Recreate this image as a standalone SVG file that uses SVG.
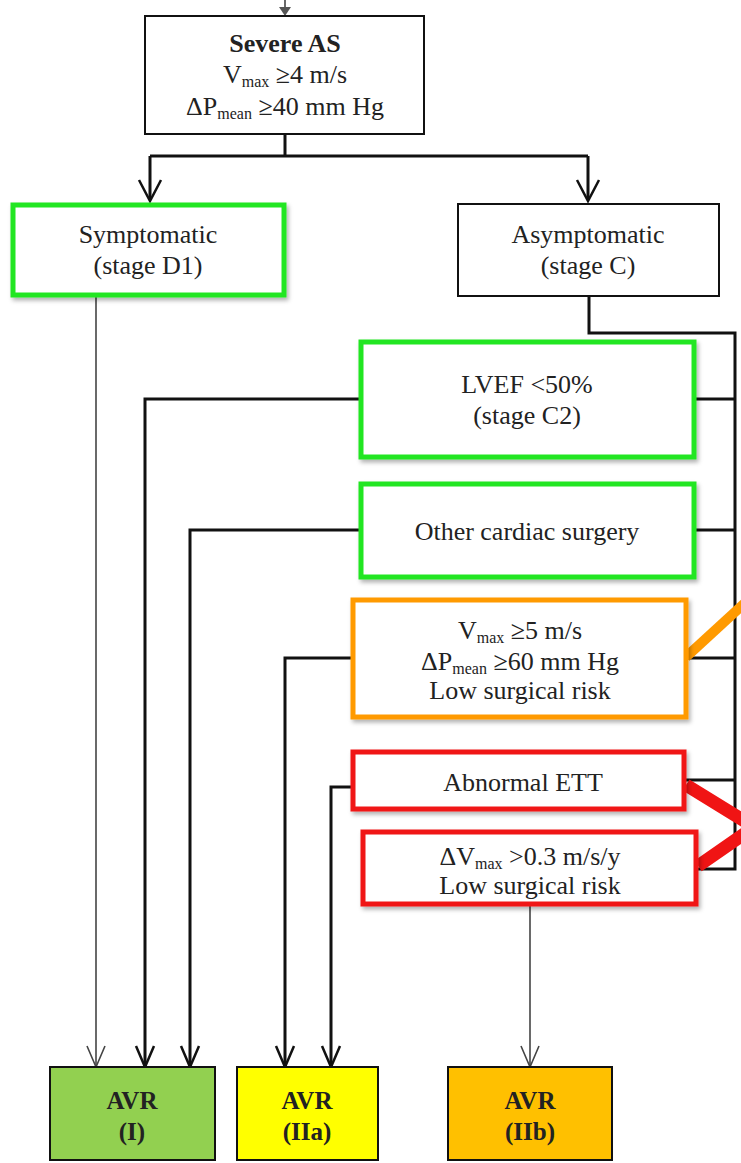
<svg xmlns="http://www.w3.org/2000/svg" width="741" height="1163" viewBox="0 0 741 1163">
<defs>
<style>
text{font-family:"Liberation Serif","Times New Roman",serif;font-size:26px;fill:#222;text-anchor:middle}
.b{font-weight:bold}
.sub{font-size:16px}
.avr{font-weight:bold;font-size:25px}
.plain{fill:#fff;stroke:#111;stroke-width:2}
.g{fill:#fff;stroke:#22e622;stroke-width:5;filter:url(#sh)}
.o{fill:#fff;stroke:#ff9a00;stroke-width:5;filter:url(#sh)}
.r{fill:#fff;stroke:#f01414;stroke-width:5;filter:url(#sh)}
.c{fill:none;stroke:#111;stroke-width:3}
.t{fill:none;stroke:#444;stroke-width:1.6}
.ah{fill:none;stroke:#111;stroke-width:2.5}
.aht{fill:none;stroke:#444;stroke-width:1.6}
.bx{stroke:#111;stroke-width:2}
</style>
<filter id="sh" x="-5%" y="-10%" width="115%" height="130%">
<feDropShadow dx="2" dy="3" stdDeviation="2" flood-color="#000" flood-opacity="0.3"/>
</filter>
</defs>

<g id="connectors">
<line x1="285" y1="0" x2="285" y2="9" class="t"/>
<polygon points="279,7 291,7 285,16" fill="#555"/>
<polyline points="285,134 285,156" class="c"/>
<polyline points="150,156 588,156" class="c"/>
<polyline points="150,156 150,200" class="c"/>
<polyline points="139,180 150,201 161,180" class="ah"/>
<polyline points="588,156 588,200" class="c"/>
<polyline points="577,180 588,201 599,180" class="ah"/>
<polyline points="96,296 96,1066" class="t"/>
<polyline points="87,1046 96,1067 105,1046" class="aht"/>
<polyline points="589,297 589,333 735,333 735,869 697,869" class="c"/>
<line x1="695" y1="399" x2="735" y2="399" class="c"/>
<line x1="695" y1="530" x2="735" y2="530" class="c"/>
<line x1="687" y1="658" x2="735" y2="658" class="c"/>
<line x1="685" y1="780" x2="735" y2="780" class="c"/>
<polyline points="360,399 145,399 145,1066" class="c"/>
<polyline points="136,1046 145,1067 154,1046" class="ah"/>
<polyline points="360,530 190,530 190,1066" class="c"/>
<polyline points="181,1046 190,1067 199,1046" class="ah"/>
<polyline points="352,658 285,658 285,1066" class="c"/>
<polyline points="276,1046 285,1067 294,1046" class="ah"/>
<polyline points="352,787 331,787 331,1066" class="c"/>
<polyline points="322,1046 331,1067 340,1046" class="ah"/>
<polyline points="530,905 530,1066" class="t"/>
<polyline points="521,1046 530,1067 539,1046" class="aht"/>
<line x1="686" y1="657" x2="748" y2="600" stroke="#ff9a00" stroke-width="10"/>
<polyline points="686,785 754,827 698,866" fill="none" stroke="#f01414" stroke-width="13"/>
</g>

<g id="severe">
<rect x="145" y="16" width="279" height="118" class="plain"/>
<text x="285" y="52" class="b">Severe AS</text>
<text x="285" y="83">V<tspan class="sub" dy="4">max</tspan><tspan dy="-4"> ≥4 m/s</tspan></text>
<text x="285" y="115">ΔP<tspan class="sub" dy="4">mean</tspan><tspan dy="-4"> ≥40 mm Hg</tspan></text>
</g>

<g id="symptomatic">
<rect x="13" y="205" width="271" height="90" class="g"/>
<text x="148" y="243">Symptomatic</text>
<text x="148" y="274">(stage D1)</text>
</g>

<g id="asymptomatic">
<rect x="458" y="204" width="261" height="92" class="plain"/>
<text x="588" y="243">Asymptomatic</text>
<text x="588" y="274">(stage C)</text>
</g>

<g id="lvef">
<rect x="361" y="342" width="333" height="115" class="g"/>
<text x="527" y="393">LVEF &lt;50%</text>
<text x="527" y="424">(stage C2)</text>
</g>

<g id="other">
<rect x="361" y="484" width="333" height="93" class="g"/>
<text x="527" y="540">Other cardiac surgery</text>
</g>

<g id="vmax5">
<rect x="353" y="600" width="333" height="117" class="o"/>
<text x="520" y="639">V<tspan class="sub" dy="4">max</tspan><tspan dy="-4"> ≥5 m/s</tspan></text>
<text x="520" y="670">ΔP<tspan class="sub" dy="4">mean</tspan><tspan dy="-4"> ≥60 mm Hg</tspan></text>
<text x="520" y="699">Low surgical risk</text>
</g>

<g id="ett">
<rect x="353" y="752" width="331" height="57" class="r"/>
<text x="523" y="791">Abnormal ETT</text>
</g>

<g id="dvmax">
<rect x="363" y="832" width="333" height="72" class="r"/>
<text x="530" y="865">ΔV<tspan class="sub" dy="4">max</tspan><tspan dy="-4"> &gt;0.3 m/s/y</tspan></text>
<text x="530" y="894">Low surgical risk</text>
</g>

<g id="avr1">
<rect x="50" y="1067" width="165" height="93" fill="#92d050" class="bx"/>
<text x="132" y="1109" class="avr">AVR</text>
<text x="132" y="1140" class="avr">(I)</text>
</g>

<g id="avr2a">
<rect x="237" y="1067" width="141" height="93" fill="#ffff00" class="bx"/>
<text x="307" y="1109" class="avr">AVR</text>
<text x="307" y="1140" class="avr">(IIa)</text>
</g>

<g id="avr2b">
<rect x="448" y="1067" width="164" height="93" fill="#ffc000" class="bx"/>
<text x="530" y="1109" class="avr">AVR</text>
<text x="530" y="1140" class="avr">(IIb)</text>
</g>
</svg>
